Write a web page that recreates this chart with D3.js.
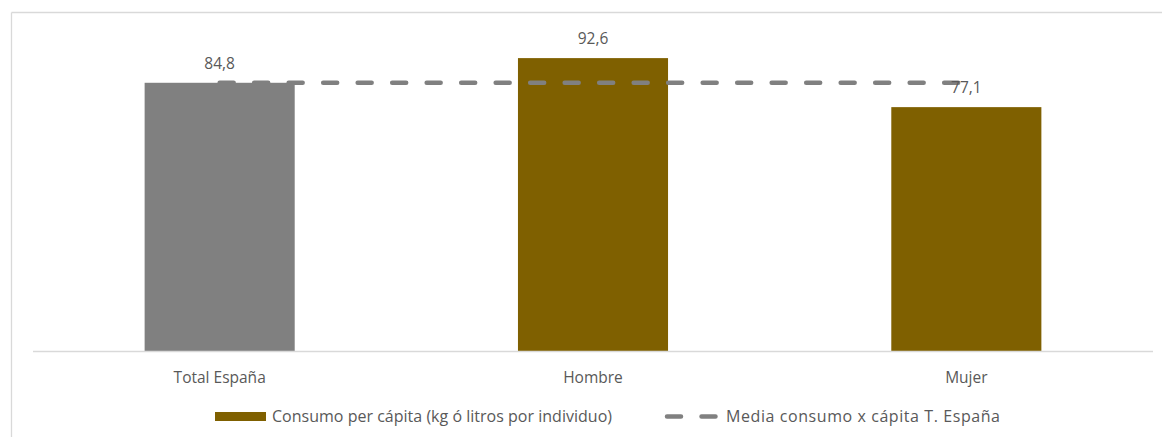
<!DOCTYPE html>
<html>
<head>
<meta charset="utf-8">
<script src="https://cdn.jsdelivr.net/npm/d3@7"></script>
<style>
  html, body { margin: 0; padding: 0; background: #fff; }
  svg { display: block; }
  text { font-family: "Open Sans", "Noto Sans", sans-serif; fill: #595959; }
</style>
</head>
<body>
<svg id="chart" width="1162" height="437"></svg>
<script>
const categories = ["Total España", "Hombre", "Mujer"];
const consumo = [84.8, 92.6, 77.1];
const mediaEspana = [84.8, 84.8, 84.8];
const valueLabels = ["84,8", "92,6", "77,1"];
const legendLabels = ["Consumo per cápita (kg ó litros por individuo)", "Media consumo x cápita T. España"];

const W = 1162, H = 437;
const plot = { left: 33, right: 1153, top: 34.7, bottom: 351 };
const svg = d3.select("#chart");

// chart border (top & left visible)
svg.append("line").attr("x1", 11.5).attr("x2", W).attr("y1", 12.5).attr("y2", 12.5)
  .attr("stroke", "#D9D9D9").attr("stroke-width", 1.3);
svg.append("line").attr("x1", 11.5).attr("x2", 11.5).attr("y1", 12.5).attr("y2", H)
  .attr("stroke", "#D9D9D9").attr("stroke-width", 1.3);

const x = d3.scaleBand().domain(categories).range([plot.left, plot.right])
  .paddingInner(0.598).paddingOuter(0.299);
const y = d3.scaleLinear().domain([0, 100]).range([plot.bottom, plot.top]);

const barColor = (d, i) => i === 0 ? "#808080" : "#7F6000";

svg.append("g").selectAll("rect").data(consumo).join("rect")
  .attr("x", (d, i) => x(categories[i]))
  .attr("width", x.bandwidth())
  .attr("y", d => y(d))
  .attr("height", d => y(0) - y(d))
  .attr("fill", barColor);

// x axis
const xAxis = svg.append("g").attr("transform", `translate(0,${plot.bottom})`)
  .call(d3.axisBottom(x).tickSize(0).tickPadding(0));
xAxis.select(".domain").attr("stroke", "#D9D9D9").attr("stroke-width", 1.3)
  .attr("d", `M${plot.left},0.5H${plot.right}`);
xAxis.selectAll(".tick text")
  .attr("font-size", 15.5).attr("fill", "#595959")
  .attr("dy", null).attr("y", 32)
  .style("font-family", '"Open Sans", "Noto Sans", sans-serif');

// dashed mean line
const line = d3.line()
  .x((d, i) => x(categories[i]) + x.bandwidth() / 2)
  .y(d => y(d));
svg.append("path").datum(mediaEspana)
  .attr("d", line)
  .attr("fill", "none")
  .attr("stroke", "#808080")
  .attr("stroke-width", 4.5)
  .attr("stroke-linecap", "round")
  .attr("stroke-dasharray", "14 20.5");

// data labels
svg.append("g").selectAll("text").data(consumo).join("text")
  .attr("x", (d, i) => x(categories[i]) + x.bandwidth() / 2)
  .attr("y", d => y(d) - 14)
  .attr("text-anchor", "middle")
  .attr("font-size", 15.5)
  .text((d, i) => valueLabels[i]);

// legend
const lg = svg.append("g");
lg.append("rect").attr("x", 215).attr("y", 412).attr("width", 51).attr("height", 9).attr("fill", "#7F6000");
lg.append("text").attr("x", 272).attr("y", 422).attr("font-size", 16)
  .attr("textLength", 340).attr("lengthAdjust", "spacing").text(legendLabels[0]);
lg.append("line").attr("x1", 667).attr("x2", 716).attr("y1", 416.5).attr("y2", 416.5)
  .attr("stroke", "#808080").attr("stroke-width", 4.5).attr("stroke-linecap", "round")
  .attr("stroke-dasharray", "14 20.5");
lg.append("text").attr("x", 726).attr("y", 422).attr("font-size", 16)
  .attr("textLength", 274).attr("lengthAdjust", "spacing").text(legendLabels[1]);
</script>
</body>
</html>
